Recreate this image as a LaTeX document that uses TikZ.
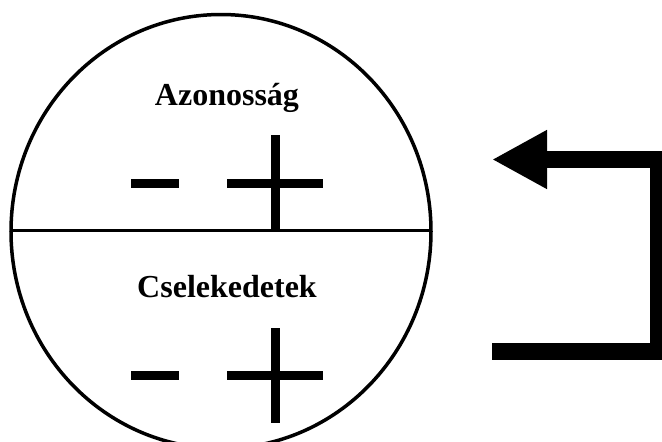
\documentclass[tikz,border=0pt]{standalone}
\usepackage{fontspec}
\setmainfont{Liberation Serif}
\usetikzlibrary{arrows.meta}
\begin{document}
\begin{tikzpicture}
[x=1pt,y=-1pt,
  titledecorate/.style={font=\bfseries\fontsize{32}{38}\selectfont,inner sep=0pt,anchor=base},%
  signdecorate/.style={line width=9pt},%
  arrowdecorate/.style={line width=17pt,line join=miter,-{Triangle[length=55pt,width=55pt]}}]
\useasboundingbox (0,0) rectangle (662,442);
% circle and divider
\draw[line width=3.5pt] (221,231.5) ellipse [x radius=210,y radius=217];
\coordinate (west) at (11,230);
\coordinate (east) at (431,230);
\draw[line width=3pt] (west) -- (east);
% labels
\node (azon) at (227,105) [titledecorate] {Azonosság};
\node (csel) at (227,297) [titledecorate] {Cselekedetek};
% signs
\coordinate (m1a) at (131,183); \coordinate (m1b) at (179,183);
\coordinate (p1a) at (227,183); \coordinate (p1b) at (323,183);
\coordinate (p1c) at (275,135); \coordinate (p1d) at (275,230);
\coordinate (m2a) at (131,375); \coordinate (m2b) at (179,375);
\coordinate (p2a) at (227,375); \coordinate (p2b) at (323,375);
\coordinate (p2c) at (275,328); \coordinate (p2d) at (275,423);
\draw[signdecorate] (m1a) -- (m1b);
\draw[signdecorate] (p1a) -- (p1b);
\draw[signdecorate] (p1c) -- (p1d);
\draw[signdecorate] (m2a) -- (m2b);
\draw[signdecorate] (p2a) -- (p2b);
\draw[signdecorate] (p2c) -- (p2d);
% feedback arrow
\coordinate (start) at (492,351);
\coordinate (low) at (658.5,351);
\coordinate (high) at (658.5,159.5);
\coordinate (tip) at (492,159.5);
\draw[arrowdecorate] (start) -- (low) -- (high) -- (tip);
\end{tikzpicture}
\end{document}
